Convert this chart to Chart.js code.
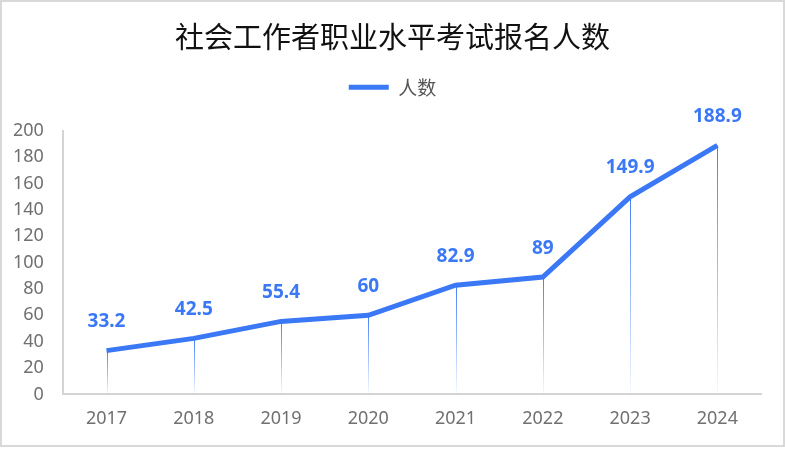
<!DOCTYPE html>
<html>
<head>
<meta charset="utf-8">
<script src="https://cdn.jsdelivr.net/npm/chart.js@4/dist/chart.umd.min.js"></script>
<style>
  html, body { margin: 0; padding: 0; background: #fff; }
  #wrap { position: absolute; left: 0; top: 0; width: 785px; height: 447px; box-sizing: border-box; border: 2px solid #d9d9d9; }
  canvas { display: block; }
</style>
</head>
<body>
<div id="wrap"><canvas id="c" width="781" height="443"></canvas></div>
<script>
const titleText = '社会工作者职业水平考试报名人数';
const seriesName = '人数';
const categories = ['2017', '2018', '2019', '2020', '2021', '2022', '2023', '2024'];
const values = [33.2, 42.5, 55.4, 60, 82.9, 89, 149.9, 188.9];

const BLUE = '#3b78f6';

const legendSpacer = {
  id: 'legendSpacer',
  beforeInit(chart) {
    const orig = chart.legend.fit;
    chart.legend.fit = function () {
      orig.call(this);
      this.height += 24;
    };
  },
  afterLayout(chart) {
    [chart.titleBlock, chart.legend].forEach(b => {
      if (b) { b.left = 0; b.right = chart.width; }
    });
  }
};

const dropLinesAndLabels = {
  id: 'dropLinesAndLabels',
  beforeDatasetsDraw(chart) {
    const { ctx, scales: { x, y } } = chart;
    const base = y.getPixelForValue(0);
    ctx.save();
    values.forEach((v, i) => {
      const px = x.getPixelForValue(i);
      const py = y.getPixelForValue(v);
      const g = ctx.createLinearGradient(0, py, 0, base);
      g.addColorStop(0, 'rgba(59,120,246,0.95)');
      g.addColorStop(1, 'rgba(59,120,246,0.04)');
      ctx.strokeStyle = g;
      ctx.lineWidth = 1;
      ctx.beginPath();
      ctx.moveTo(Math.round(px) + 0.5, py);
      ctx.lineTo(Math.round(px) + 0.5, base);
      ctx.stroke();
    });
    ctx.restore();
  },
  afterDatasetsDraw(chart) {
    const { ctx, scales: { x, y } } = chart;
    ctx.save();
    ctx.fillStyle = BLUE;
    ctx.font = 'bold 19px "Noto Sans", "Open Sans", sans-serif';
    ctx.textAlign = 'center';
    ctx.textBaseline = 'middle';
    values.forEach((v, i) => {
      const px = x.getPixelForValue(i);
      const py = y.getPixelForValue(v);
      ctx.fillText(String(v), px, py - 29);
    });
    ctx.restore();
  }
};

new Chart(document.getElementById('c'), {
  type: 'line',
  data: {
    labels: categories,
    datasets: [{
      label: seriesName,
      data: values,
      borderColor: BLUE,
      backgroundColor: BLUE,
      borderWidth: 5,
      pointRadius: 0,
      pointHoverRadius: 0,
      tension: 0,
      fill: false
    }]
  },
  options: {
    responsive: false,
    animation: false,
    layout: { padding: { left: 0, right: 22, top: 0, bottom: 9 } },
    plugins: {
      title: {
        display: true,
        text: titleText,
        color: '#111',
        font: { family: '"Noto Sans CJK SC", sans-serif', size: 29, weight: 'normal' },
        padding: { top: 18, bottom: 6 }
      },
      legend: {
        display: true,
        labels: {
          usePointStyle: true,
          pointStyle: 'line',
          pointStyleWidth: 40,
          color: '#555',
          font: { family: '"Noto Sans CJK SC", sans-serif', size: 19 },
          padding: 17
        }
      },
      tooltip: { enabled: false }
    },
    scales: {
      x: {
        offset: true,
        grid: { display: false },
        border: { display: true, color: '#d4d4d4', width: 2 },
        ticks: { color: '#707070', font: { family: '"Noto Sans", sans-serif', size: 18 }, padding: 6 }
      },
      y: {
        min: 0,
        max: 200,
        grid: { display: false },
        border: { display: true, color: '#d4d4d4', width: 2 },
        ticks: { stepSize: 20, color: '#707070', font: { family: '"Noto Sans", sans-serif', size: 18 }, padding: 11 }
      }
    }
  },
  plugins: [legendSpacer, dropLinesAndLabels]
});
</script>
</body>
</html>
